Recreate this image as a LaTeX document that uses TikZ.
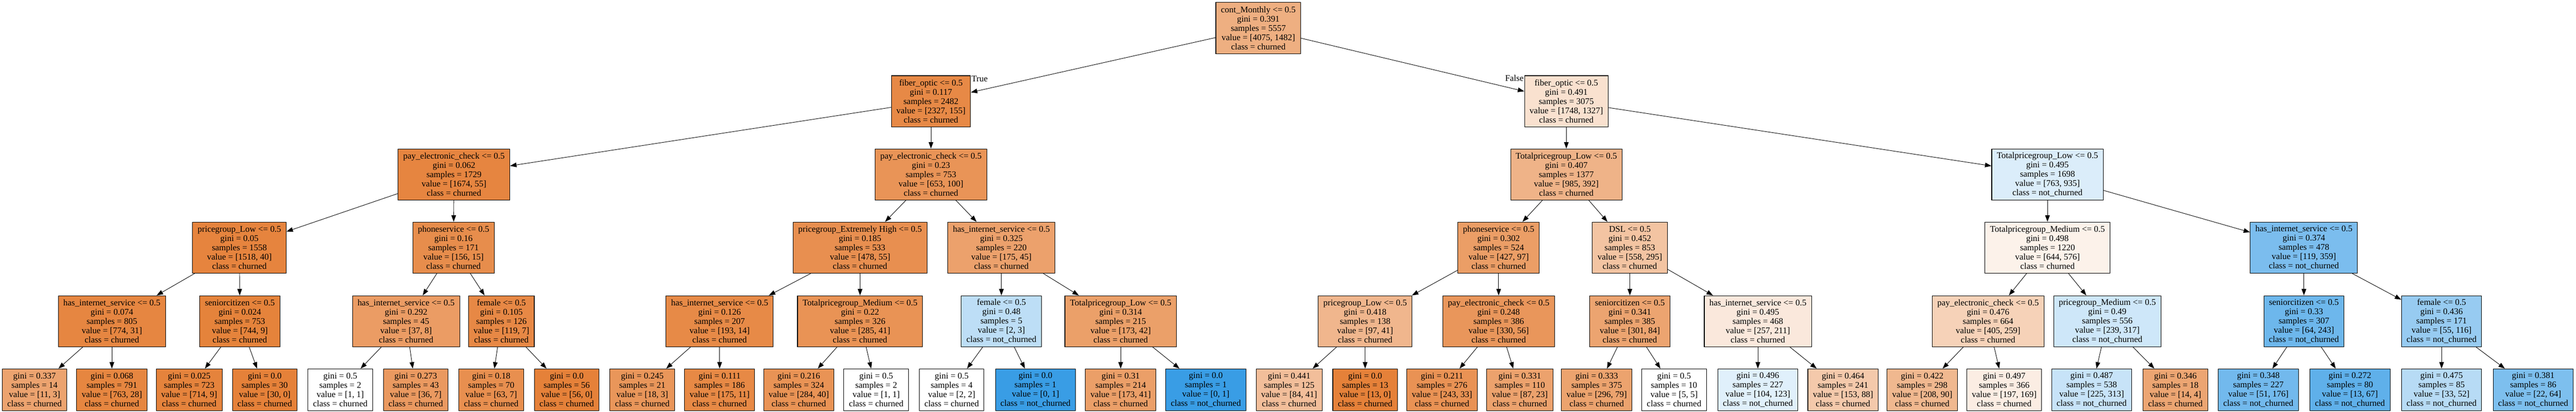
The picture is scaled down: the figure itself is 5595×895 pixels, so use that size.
\documentclass[tikz,border=0pt]{standalone}
\usepackage{fontspec}
\setmainfont{Liberation Serif}
\usetikzlibrary{arrows.meta}

\definecolor{churned}{RGB}{229,129,57}
\definecolor{notchurned}{RGB}{57,157,229}

\begin{document}
\begin{tikzpicture}[x=0.5pt, y=-0.5pt,
	dtbox/.style={draw, rectangle, line width=0.6pt, align=center, inner xsep=5.5pt, inner ysep=1pt, font=\fontsize{9.5}{10.05}\selectfont},
	shadeby/.style 2 args={/utils/exec={\pgfmathsetmacro\dtalpha{abs(#1-#2)/max(#1,#2)*100}\ifnum#1<#2\relax\def\dtcol{notchurned}\else\def\dtcol{churned}\fi}, fill=\dtcol!\dtalpha!white},
	splitbox/.style 2 args={dtbox, shadeby={#1}{#2}, minimum height=55.5pt},
	leafbox/.style 2 args={dtbox, shadeby={#1}{#2}, minimum height=45.5pt},
	dtedge/.style={line width=0.5pt, -{Triangle[length=7pt, width=5pt]}},
	edgelbl/.style={inner sep=0.5pt, font=\fontsize{9.5}{10.05}\selectfont}]

	% page size in pixels of the exported tree
	\useasboundingbox (0,0) rectangle (5595,895);

	% root and first split
	\node[splitbox={4075}{1482}] (root) at (2733,61) {cont\_Monthly <= 0.5\\gini = 0.391\\samples = 5557\\value = [4075, 1482]\\class = churned};
	\node[splitbox={2327}{155}] (l) at (2022,220) {fiber\_optic <= 0.5\\gini = 0.117\\samples = 2482\\value = [2327, 155]\\class = churned};
	\node[splitbox={1748}{1327}] (r) at (3402,220) {fiber\_optic <= 0.5\\gini = 0.491\\samples = 3075\\value = [1748, 1327]\\class = churned};
	\node[edgelbl, anchor=north west] (truelbl) at (l.north east) {True};
	\node[edgelbl, anchor=north east, yshift=1pt] (falselbl) at (r.north west) {False};

	% left half (True)
	\node[splitbox={1674}{55}] (ll) at (986,379) {pay\_electronic\_check <= 0.5\\gini = 0.062\\samples = 1729\\value = [1674, 55]\\class = churned};
	\node[splitbox={1518}{40}] (lll) at (520,538) {pricegroup\_Low <= 0.5\\gini = 0.05\\samples = 1558\\value = [1518, 40]\\class = churned};
	\node[splitbox={774}{31}] (llll) at (243,698) {has\_internet\_service <= 0.5\\gini = 0.074\\samples = 805\\value = [774, 31]\\class = churned};
	\node[leafbox={11}{3}] (lllll) at (75,847) {gini = 0.337\\samples = 14\\value = [11, 3]\\class = churned};
	\node[leafbox={763}{28}] (llllr) at (243,847) {gini = 0.068\\samples = 791\\value = [763, 28]\\class = churned};
	\node[splitbox={744}{9}] (lllr) at (521,698) {seniorcitizen <= 0.5\\gini = 0.024\\samples = 753\\value = [744, 9]\\class = churned};
	\node[leafbox={714}{9}] (lllrl) at (411,847) {gini = 0.025\\samples = 723\\value = [714, 9]\\class = churned};
	\node[leafbox={30}{0}] (lllrr) at (575,847) {gini = 0.0\\samples = 30\\value = [30, 0]\\class = churned};
	\node[splitbox={156}{15}] (llr) at (985,538) {phoneservice <= 0.5\\gini = 0.16\\samples = 171\\value = [156, 15]\\class = churned};
	\node[splitbox={37}{8}] (llrl) at (882,698) {has\_internet\_service <= 0.5\\gini = 0.292\\samples = 45\\value = [37, 8]\\class = churned};
	\node[leafbox={1}{1}] (llrll) at (739,847) {gini = 0.5\\samples = 2\\value = [1, 1]\\class = churned};
	\node[leafbox={36}{7}] (llrlr) at (903,847) {gini = 0.273\\samples = 43\\value = [36, 7]\\class = churned};
	\node[splitbox={119}{7}] (llrr) at (1089,698) {female <= 0.5\\gini = 0.105\\samples = 126\\value = [119, 7]\\class = churned};
	\node[leafbox={63}{7}] (llrrl) at (1067,847) {gini = 0.18\\samples = 70\\value = [63, 7]\\class = churned};
	\node[leafbox={56}{0}] (llrrr) at (1231,847) {gini = 0.0\\samples = 56\\value = [56, 0]\\class = churned};

	\node[splitbox={653}{100}] (lr) at (2022,379) {pay\_electronic\_check <= 0.5\\gini = 0.23\\samples = 753\\value = [653, 100]\\class = churned};
	\node[splitbox={478}{55}] (lrl) at (1868,538) {pricegroup\_Extremely High <= 0.5\\gini = 0.185\\samples = 533\\value = [478, 55]\\class = churned};
	\node[splitbox={193}{14}] (lrll) at (1563,698) {has\_internet\_service <= 0.5\\gini = 0.126\\samples = 207\\value = [193, 14]\\class = churned};
	\node[leafbox={18}{3}] (lrlll) at (1395,847) {gini = 0.245\\samples = 21\\value = [18, 3]\\class = churned};
	\node[leafbox={175}{11}] (lrllr) at (1563,847) {gini = 0.111\\samples = 186\\value = [175, 11]\\class = churned};
	\node[splitbox={285}{41}] (lrlr) at (1868,698) {Totalpricegroup\_Medium <= 0.5\\gini = 0.22\\samples = 326\\value = [285, 41]\\class = churned};
	\node[leafbox={284}{40}] (lrlrl) at (1735,847) {gini = 0.216\\samples = 324\\value = [284, 40]\\class = churned};
	\node[leafbox={1}{1}] (lrlrr) at (1903,847) {gini = 0.5\\samples = 2\\value = [1, 1]\\class = churned};
	\node[splitbox={175}{45}] (lrr) at (2175,538) {has\_internet\_service <= 0.5\\gini = 0.325\\samples = 220\\value = [175, 45]\\class = churned};
	\node[splitbox={2}{3}] (lrrl) at (2175,698) {female <= 0.5\\gini = 0.48\\samples = 5\\value = [2, 3]\\class = not\_churned};
	\node[leafbox={2}{2}] (lrrll) at (2067,847) {gini = 0.5\\samples = 4\\value = [2, 2]\\class = churned};
	\node[leafbox={0}{1}] (lrrlr) at (2249,847) {gini = 0.0\\samples = 1\\value = [0, 1]\\class = not\_churned};
	\node[splitbox={173}{42}] (lrrr) at (2434,698) {Totalpricegroup\_Low <= 0.5\\gini = 0.314\\samples = 215\\value = [173, 42]\\class = churned};
	\node[leafbox={173}{41}] (lrrrl) at (2434,847) {gini = 0.31\\samples = 214\\value = [173, 41]\\class = churned};
	\node[leafbox={0}{1}] (lrrrr) at (2619,847) {gini = 0.0\\samples = 1\\value = [0, 1]\\class = not\_churned};

	% right half (False)
	\node[splitbox={985}{392}] (rl) at (3402,379) {Totalpricegroup\_Low <= 0.5\\gini = 0.407\\samples = 1377\\value = [985, 392]\\class = churned};
	\node[splitbox={427}{97}] (rll) at (3255,538) {phoneservice <= 0.5\\gini = 0.302\\samples = 524\\value = [427, 97]\\class = churned};
	\node[splitbox={97}{41}] (rlll) at (2965,698) {pricegroup\_Low <= 0.5\\gini = 0.418\\samples = 138\\value = [97, 41]\\class = churned};
	\node[leafbox={84}{41}] (rllll) at (2800,847) {gini = 0.441\\samples = 125\\value = [84, 41]\\class = churned};
	\node[leafbox={13}{0}] (rlllr) at (2965,847) {gini = 0.0\\samples = 13\\value = [13, 0]\\class = churned};
	\node[splitbox={330}{56}] (rllr) at (3255,698) {pay\_electronic\_check <= 0.5\\gini = 0.248\\samples = 386\\value = [330, 56]\\class = churned};
	\node[leafbox={243}{33}] (rllrl) at (3132,847) {gini = 0.211\\samples = 276\\value = [243, 33]\\class = churned};
	\node[leafbox={87}{23}] (rllrr) at (3301,847) {gini = 0.331\\samples = 110\\value = [87, 23]\\class = churned};
	\node[splitbox={558}{295}] (rlr) at (3540,538) {DSL <= 0.5\\gini = 0.452\\samples = 853\\value = [558, 295]\\class = churned};
	\node[splitbox={301}{84}] (rlrl) at (3540,698) {seniorcitizen <= 0.5\\gini = 0.341\\samples = 385\\value = [301, 84]\\class = churned};
	\node[leafbox={296}{79}] (rlrll) at (3468,847) {gini = 0.333\\samples = 375\\value = [296, 79]\\class = churned};
	\node[leafbox={5}{5}] (rlrlr) at (3636,847) {gini = 0.5\\samples = 10\\value = [5, 5]\\class = churned};
	\node[splitbox={257}{211}] (rlrr) at (3818,698) {has\_internet\_service <= 0.5\\gini = 0.495\\samples = 468\\value = [257, 211]\\class = churned};
	\node[leafbox={104}{123}] (rlrrl) at (3818,847) {gini = 0.496\\samples = 227\\value = [104, 123]\\class = not\_churned};
	\node[leafbox={153}{88}] (rlrrr) at (4003,847) {gini = 0.464\\samples = 241\\value = [153, 88]\\class = churned};

	\node[splitbox={763}{935}] (rr) at (4447,379) {Totalpricegroup\_Low <= 0.5\\gini = 0.495\\samples = 1698\\value = [763, 935]\\class = not\_churned};
	\node[splitbox={644}{576}] (rrl) at (4447,538) {Totalpricegroup\_Medium <= 0.5\\gini = 0.498\\samples = 1220\\value = [644, 576]\\class = churned};
	\node[splitbox={405}{259}] (rrll) at (4318,698) {pay\_electronic\_check <= 0.5\\gini = 0.476\\samples = 664\\value = [405, 259]\\class = churned};
	\node[leafbox={208}{90}] (rrlll) at (4175,847) {gini = 0.422\\samples = 298\\value = [208, 90]\\class = churned};
	\node[leafbox={197}{169}] (rrllr) at (4353,847) {gini = 0.497\\samples = 366\\value = [197, 169]\\class = churned};
	\node[splitbox={239}{317}] (rrlr) at (4577,698) {pricegroup\_Medium <= 0.5\\gini = 0.49\\samples = 556\\value = [239, 317]\\class = not\_churned};
	\node[leafbox={225}{313}] (rrlrl) at (4543,847) {gini = 0.487\\samples = 538\\value = [225, 313]\\class = not\_churned};
	\node[leafbox={14}{4}] (rrlrr) at (4725,847) {gini = 0.346\\samples = 18\\value = [14, 4]\\class = churned};
	\node[splitbox={119}{359}] (rrr) at (5004,538) {has\_internet\_service <= 0.5\\gini = 0.374\\samples = 478\\value = [119, 359]\\class = not\_churned};
	\node[splitbox={64}{243}] (rrrl) at (5004,698) {seniorcitizen <= 0.5\\gini = 0.33\\samples = 307\\value = [64, 243]\\class = not\_churned};
	\node[leafbox={51}{176}] (rrrll) at (4905,847) {gini = 0.348\\samples = 227\\value = [51, 176]\\class = not\_churned};
	\node[leafbox={13}{67}] (rrrlr) at (5104,847) {gini = 0.272\\samples = 80\\value = [13, 67]\\class = not\_churned};
	\node[splitbox={55}{116}] (rrrr) at (5303,698) {female <= 0.5\\gini = 0.436\\samples = 171\\value = [55, 116]\\class = not\_churned};
	\node[leafbox={33}{52}] (rrrrl) at (5303,847) {gini = 0.475\\samples = 85\\value = [33, 52]\\class = not\_churned};
	\node[leafbox={22}{64}] (rrrrr) at (5502,847) {gini = 0.381\\samples = 86\\value = [22, 64]\\class = not\_churned};

	% parent -> child edges
	\foreach \a/\b in {root/l, root/r, l/ll, l/lr, r/rl, r/rr,
		ll/lll, ll/llr, lr/lrl, lr/lrr, rl/rll, rl/rlr, rr/rrl, rr/rrr,
		lll/llll, lll/lllr, llr/llrl, llr/llrr, lrl/lrll, lrl/lrlr, lrr/lrrl, lrr/lrrr,
		rll/rlll, rll/rllr, rlr/rlrl, rlr/rlrr, rrl/rrll, rrl/rrlr, rrr/rrrl, rrr/rrrr,
		llll/lllll, llll/llllr, lllr/lllrl, lllr/lllrr, llrl/llrll, llrl/llrlr, llrr/llrrl, llrr/llrrr,
		lrll/lrlll, lrll/lrllr, lrlr/lrlrl, lrlr/lrlrr, lrrl/lrrll, lrrl/lrrlr, lrrr/lrrrl, lrrr/lrrrr,
		rlll/rllll, rlll/rlllr, rllr/rllrl, rllr/rllrr, rlrl/rlrll, rlrl/rlrlr, rlrr/rlrrl, rlrr/rlrrr,
		rrll/rrlll, rrll/rrllr, rrlr/rrlrl, rrlr/rrlrr, rrrl/rrrll, rrrl/rrrlr, rrrr/rrrrl, rrrr/rrrrr}
		\draw[dtedge] (\a) -- (\b);

\end{tikzpicture}
\end{document}
